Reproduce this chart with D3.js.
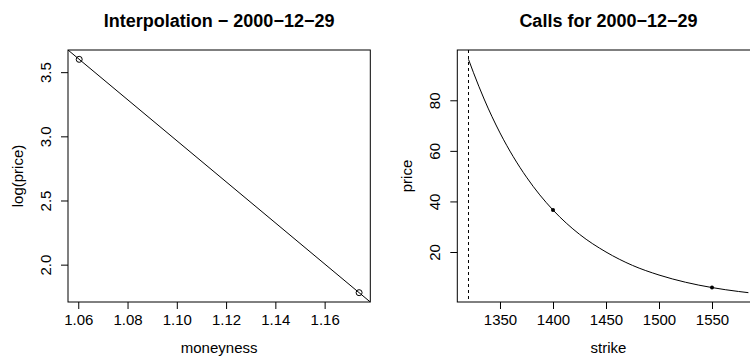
<!DOCTYPE html>
<html>
<head>
<meta charset="utf-8">
<script src="https://cdn.jsdelivr.net/npm/d3@7"></script>
<style>
  html, body { margin: 0; padding: 0; background: #fff; }
  svg { display: block; font-family: "Liberation Sans", Arial, Helvetica, sans-serif; }
  .tick text { font-size: 15px; fill: #000; }
  .tick line { stroke: #000; }
</style>
</head>
<body>
<svg id="chart" width="750" height="356"></svg>
<script>
// Observed call quotes for 2000-12-29
const quoteDate = "2000\u221212\u221229";
const spot = 1320.28;
const strikes = [1400, 1550];
const prices = [36.6, 5.94];

// Interpolated call price curve over strike
const curveStrikes = [1320.28, 1325, 1335, 1350, 1362.5, 1375, 1387.5, 1400, 1425, 1450, 1475, 1500, 1525, 1550, 1575, 1584.34];
const curvePrices  = [96.2, 90.9, 80.5, 67.1, 57.7, 49.6, 42.6, 36.6, 27.0, 20.0, 14.7, 10.9, 8.04, 5.94, 4.39, 3.92];

// Axis ticks
const moneynessTicks = [1.06, 1.08, 1.10, 1.12, 1.14, 1.16];
const logPriceTicks = [2.0, 2.5, 3.0, 3.5];
const strikeTicks = [1350, 1400, 1450, 1500, 1550];
const priceTicks = [20, 40, 60, 80];

const svg = d3.select("#chart");

// R-style 4% padding of the data range
function pad(ext) {
  const d = (ext[1] - ext[0]) * 0.04;
  return [ext[0] - d, ext[1] + d];
}

const panels = {
  left:  { x0: 68,    x1: 370.3, y0: 50, y1: 302 },
  right: { x0: 457.3, x1: 759.6, y0: 50, y1: 302 }
};

function frame(p, xScale, yScale, xTicks, yTicks, xFmt, yFmt, title, xlab, ylab, id) {
  const g = svg.append("g");
  g.append("defs").append("clipPath").attr("id", id)
    .append("rect").attr("x", p.x0).attr("y", p.y0)
    .attr("width", p.x1 - p.x0).attr("height", p.y1 - p.y0);

  const xa = g.append("g").attr("transform", `translate(0,${p.y1})`)
    .call(d3.axisBottom(xScale).tickValues(xTicks).tickFormat(xFmt).tickSize(7).tickSizeOuter(0));
  xa.select(".domain").remove();
  xa.selectAll(".tick text").attr("y", 23).attr("dy", 0);

  const ya = g.append("g").attr("transform", `translate(${p.x0},0)`)
    .call(d3.axisLeft(yScale).tickValues(yTicks).tickFormat(yFmt).tickSize(7).tickSizeOuter(0));
  ya.select(".domain").remove();
  ya.selectAll(".tick text")
    .attr("x", 0).attr("dy", 0)
    .attr("text-anchor", "middle")
    .attr("transform", "translate(-17,0) rotate(-90)");

  g.append("rect").attr("x", p.x0).attr("y", p.y0)
    .attr("width", p.x1 - p.x0).attr("height", p.y1 - p.y0)
    .attr("fill", "none").attr("stroke", "#000").attr("stroke-width", 1);

  g.append("text").attr("x", (p.x0 + p.x1) / 2).attr("y", 27)
    .attr("text-anchor", "middle").attr("font-size", 18).attr("font-weight", "bold")
    .text(title);
  g.append("text").attr("x", (p.x0 + p.x1) / 2).attr("y", 353)
    .attr("text-anchor", "middle").attr("font-size", 15).text(xlab);
  g.append("text")
    .attr("transform", `translate(${p.x0 - 45},${(p.y0 + p.y1) / 2}) rotate(-90)`)
    .attr("text-anchor", "middle").attr("font-size", 15).text(ylab);
  return g.append("g").attr("clip-path", `url(#${id})`);
}

// ---- Left panel: log(price) against moneyness ----
const moneyness = strikes.map(k => k / spot);
const logPrice = prices.map(p => Math.log(p));
const pl = panels.left;
const xL = d3.scaleLinear().domain(pad(d3.extent(moneyness))).range([pl.x0, pl.x1]);
const yL = d3.scaleLinear().domain(pad(d3.extent(logPrice))).range([pl.y1, pl.y0]);
const gL = frame(pl, xL, yL, moneynessTicks, logPriceTicks, d3.format(".2f"), d3.format(".1f"),
  "Interpolation \u2212 " + quoteDate, "moneyness", "log(price)", "clipL");

// straight line through the two quotes, spanning the plot
const slope = (logPrice[1] - logPrice[0]) / (moneyness[1] - moneyness[0]);
const xd = xL.domain();
const lineEnds = xd.map(m => [m, logPrice[0] + slope * (m - moneyness[0])]);
gL.append("path")
  .attr("d", d3.line().x(d => xL(d[0])).y(d => yL(d[1]))(lineEnds))
  .attr("fill", "none").attr("stroke", "#000").attr("stroke-width", 1);
gL.selectAll("circle").data(moneyness).join("circle")
  .attr("cx", d => xL(d)).attr("cy", (d, i) => yL(logPrice[i])).attr("r", 3)
  .attr("fill", "none").attr("stroke", "#000").attr("stroke-width", 1);

// ---- Right panel: call price against strike ----
const pr = panels.right;
const xR = d3.scaleLinear().domain(pad(d3.extent(curveStrikes))).range([pr.x0, pr.x1]);
const yR = d3.scaleLinear().domain(pad(d3.extent(curvePrices))).range([pr.y1, pr.y0]);
const gR = frame(pr, xR, yR, strikeTicks, priceTicks, d3.format("d"), d3.format("d"),
  "Calls for " + quoteDate, "strike", "price", "clipR");

gR.append("line")
  .attr("x1", xR(spot)).attr("x2", xR(spot))
  .attr("y1", pr.y0).attr("y2", pr.y1)
  .attr("stroke", "#000").attr("stroke-width", 1).attr("stroke-dasharray", "3,3");

gR.append("path")
  .attr("d", d3.line().curve(d3.curveMonotoneX)
    .x((d, i) => xR(curveStrikes[i])).y(d => yR(d))(curvePrices))
  .attr("fill", "none").attr("stroke", "#000").attr("stroke-width", 1);

gR.selectAll("circle").data(strikes).join("circle")
  .attr("cx", d => xR(d)).attr("cy", (d, i) => yR(prices[i])).attr("r", 2)
  .attr("fill", "#000");
</script>
</body>
</html>
